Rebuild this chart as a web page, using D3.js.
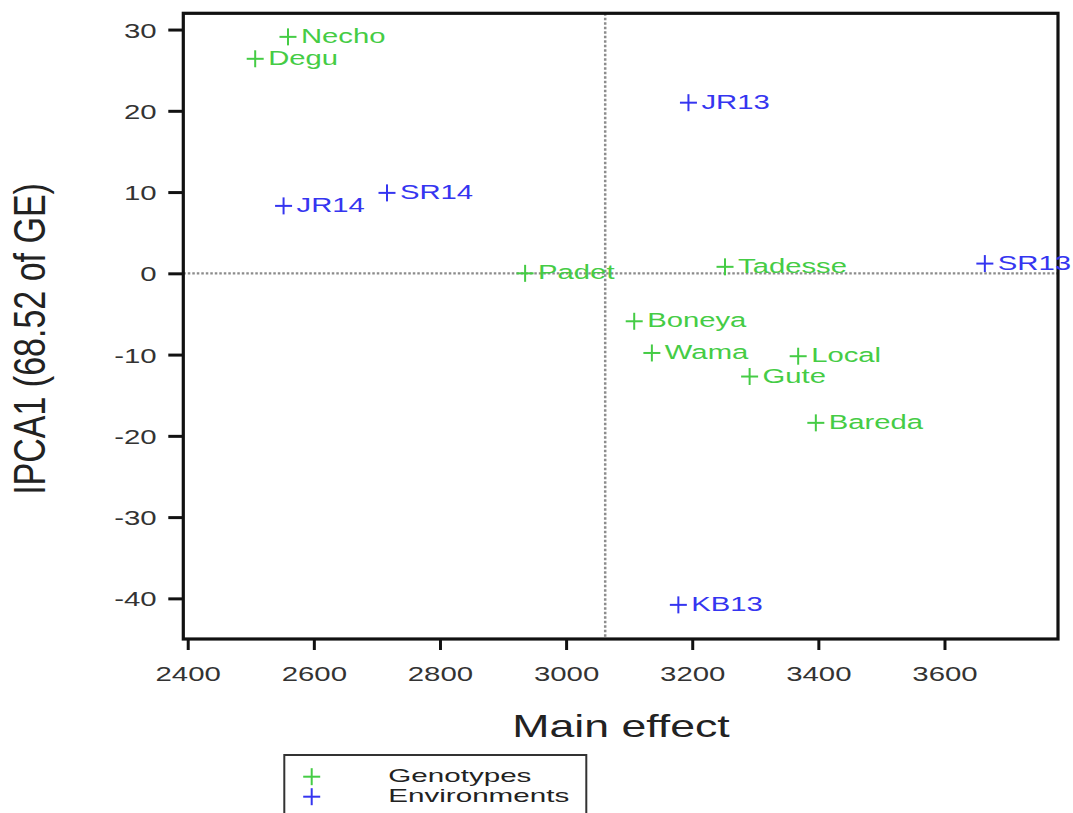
<!DOCTYPE html>
<html>
<head>
<meta charset="utf-8">
<script src="https://cdn.jsdelivr.net/npm/d3@7"></script>
<style>
  html, body { margin: 0; padding: 0; background: #fff; }
  text { font-family: "Liberation Sans", Arial, Helvetica, sans-serif; }
</style>
</head>
<body>
<svg id="chart" width="1073" height="813"></svg>
<script>
// ---- Data ----
const genotypeNames = ["Necho", "Degu", "Padet", "Tadesse", "Boneya", "Wama", "Local", "Gute", "Bareda"];
const genotypeMain  = [2559, 2507, 2935, 3252, 3108, 3136, 3368, 3291, 3396];
const genotypeIPCA1 = [29.1, 26.4, 0.0, 0.8, -5.9, -9.8, -10.2, -12.7, -18.4];

const envNames = ["JR13", "JR14", "SR14", "SR13", "KB13"];
const envMain  = [3194, 2552, 2716, 3664, 3178];
const envIPCA1 = [21.0, 8.3, 9.9, 1.2, -40.8];

const xTicks = [2400, 2600, 2800, 3000, 3200, 3400, 3600];
const yTicks = [-40, -30, -20, -10, 0, 10, 20, 30];
const grandMean = 3062;
const legendLabels = ["Genotypes", "Environments"];

const xTitle = "Main effect";
const yTitle = "IPCA1 (68.52 of GE)";

// ---- Layout ----
const GREEN = "#45cc45", BLUE = "#3535f0";
const svg = d3.select("#chart");
const L = 183.3, R = 1058, T = 13.3, B = 639;
const x = d3.scaleLinear().domain([2393, 3780]).range([L, R]);
const y = d3.scaleLinear().domain([-45, 32]).range([B, T]);

function stretch(sel, sx) {
  sel.each(function() {
    const t = d3.select(this);
    const tx = +t.attr("x") || 0, ty = +t.attr("y") || 0;
    t.attr("x", 0).attr("y", 0)
     .attr("transform", `translate(${tx},${ty}) scale(${sx},1)`);
  });
}

// Reference lines
svg.append("line")
  .attr("x1", L).attr("x2", R).attr("y1", y(0)).attr("y2", y(0))
  .attr("stroke", "#8c8c8c").attr("stroke-width", 2.2).attr("stroke-dasharray", "2.5,2");
svg.append("line")
  .attr("x1", x(grandMean)).attr("x2", x(grandMean)).attr("y1", T).attr("y2", B)
  .attr("stroke", "#8c8c8c").attr("stroke-width", 2.5).attr("stroke-dasharray", "2.5,2");

// Axes
const gx = svg.append("g").attr("transform", `translate(0,${B})`)
  .call(d3.axisBottom(x).tickValues(xTicks).tickSize(11).tickFormat(d => String(d)));
const gy = svg.append("g").attr("transform", `translate(${L},0)`)
  .call(d3.axisLeft(y).tickValues(yTicks).tickSize(15).tickFormat(d => String(d)));
[gx, gy].forEach(g => {
  g.select(".domain").remove();
  g.selectAll(".tick line").attr("stroke", "#111").attr("stroke-width", 3);
  g.selectAll(".tick text").attr("fill", "#333").attr("font-size", 21)
    .style("font-family", '"Liberation Sans", Arial, sans-serif');
});
gx.selectAll(".tick text").attr("y", 41.7).attr("dy", null).attr("x", 0);
stretch(gx.selectAll(".tick text"), 1.4);
gy.selectAll(".tick text").attr("x", -26.6).attr("dy", "0.36em").attr("y", 0);
stretch(gy.selectAll(".tick text"), 1.4);

// Frame
svg.append("rect")
  .attr("x", L).attr("y", T).attr("width", R - L).attr("height", B - T)
  .attr("fill", "none").attr("stroke", "#111").attr("stroke-width", 3.2);

// Markers
function plus(g, cx, cy, size, color, w) {
  g.append("line").attr("x1", cx - size / 2).attr("x2", cx + size / 2)
    .attr("y1", cy).attr("y2", cy).attr("stroke", color).attr("stroke-width", w);
  g.append("line").attr("x1", cx).attr("x2", cx)
    .attr("y1", cy - size / 2).attr("y2", cy + size / 2).attr("stroke", color).attr("stroke-width", w);
}

function drawSet(names, xs, ys, color) {
  const g = svg.append("g");
  names.forEach((n, i) => {
    const cx = x(xs[i]), cy = y(ys[i]);
    plus(g, cx, cy, 17, color, 2);
    const t = g.append("text").attr("x", cx + 13).attr("y", cy + 6)
      .attr("font-size", 19.5).attr("fill", color).text(n);
    stretch(t, 1.5);
  });
}
drawSet(genotypeNames, genotypeMain, genotypeIPCA1, GREEN);
drawSet(envNames, envMain, envIPCA1, BLUE);

// Axis titles
svg.append("text").attr("text-anchor", "middle")
  .attr("transform", "translate(621,736.7) scale(1.44,1)")
  .attr("font-size", 31).attr("fill", "#222").text(xTitle);
svg.append("text").attr("text-anchor", "middle")
  .attr("transform", "translate(45,339) scale(1.3,1) rotate(-90)")
  .attr("font-size", 34).attr("fill", "#222").text(yTitle);

// Legend
const lg = svg.append("g");
lg.append("rect").attr("x", 284.3).attr("y", 755).attr("width", 302).attr("height", 80)
  .attr("fill", "#fff").attr("stroke", "#333").attr("stroke-width", 2);
[GREEN, BLUE].forEach((c, i) => {
  const cy = 776.7 + i * 20;
  plus(lg, 311.7, cy, 17, c, 2);
  const t = lg.append("text").attr("x", 388.3).attr("y", cy + 5)
    .attr("font-size", 18.5).attr("fill", "#222").text(legendLabels[i]);
  stretch(t, 1.6);
});
</script>
</body>
</html>
